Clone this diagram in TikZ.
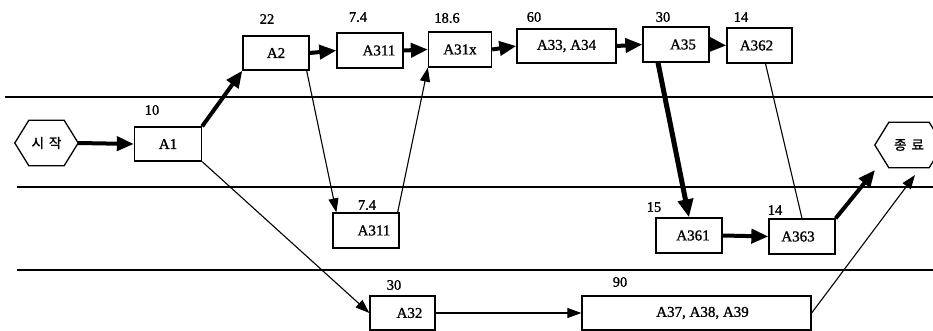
\documentclass[tikz,border=0pt]{standalone}
\usepackage{fontspec}
\setmainfont{Liberation Serif}[FakeBold=1.2]
\newfontfamily\kr{Noto Sans CJK KR}[FakeBold=1.5]
\usetikzlibrary{arrows.meta}
\begin{document}
\begin{tikzpicture}[x=1pt,y=-1pt,
  box/.style={draw, line width=1.3pt, minimum height=34pt, inner sep=0pt, font=\fontsize{15}{17}\selectfont},
  num/.style={inner sep=0pt, font=\fontsize{14.5}{16}\selectfont},
  hexn/.style={minimum width=63pt, minimum height=45pt, inner sep=0pt, font=\kr\fontsize{13.5}{15}\selectfont},
  hexline/.style={line width=1.3pt},
  band/.style={line width=1.3pt},
  tarr/.style={line width=4pt, -{Triangle[length=17pt,width=14pt]}},
  varr/.style={line width=5pt, -{Triangle[length=18pt,width=15pt]}},
  narr/.style={line width=1.1pt, -{Triangle[length=14pt,width=10pt]}},
  plain/.style={line width=1.1pt}]
\useasboundingbox (0,0) rectangle (933,331);

% band lines
\coordinate (L1a) at (5,97);   \coordinate (L1b) at (933,97);
\coordinate (L2a) at (17,187); \coordinate (L2b) at (933,187);
\coordinate (L3a) at (17,270); \coordinate (L3b) at (933,270);
\draw[band] (L1a) -- (L1b);
\draw[band] (L2a) -- (L2b);
\draw[band] (L3a) -- (L3b);

% start / end hexagons
\node[hexn] (S) at (46.5,143) {시\hspace{5pt}작};
\draw[hexline] (S.west) -- ([xshift=14pt]S.north west) -- ([xshift=-14pt]S.north east) -- (S.east)
  -- ([xshift=-14pt]S.south east) -- ([xshift=14pt]S.south west) -- cycle;
\node[hexn, minimum width=68pt] (E) at (909,145) {종\hspace{5pt}료};
\draw[hexline] (E.west) -- ([xshift=14pt]E.north west) -- ([xshift=-14pt]E.north east) -- (E.east)
  -- ([xshift=-14pt]E.south east) -- ([xshift=14pt]E.south west) -- cycle;

% boxes
\node[box, minimum width=67pt] (A1) at (168,144) {A1};
\node[box, minimum width=66pt] (A2) at (276,53) {A2};
\node[box, minimum width=66pt, minimum height=35pt] (A311t) at (370,50.5) {\hspace*{18pt}A311};
\node[box, minimum width=63pt, minimum height=35pt] (A31x) at (460,49.5) {A31x};
\node[box, minimum width=99pt] (A33) at (566.5,46) {A33,\ A34};
\node[box, minimum width=66pt, minimum height=35pt] (A35) at (676,44.5) {\hspace*{14pt}A35};
\node[box, minimum width=65pt, minimum height=35pt] (A362) at (759.5,45.5) {A362\hspace*{6pt}};
\node[box, minimum width=66pt, minimum height=35pt] (A311b) at (366,230.5) {\hspace*{16pt}A311};
\node[box, minimum width=66pt, minimum height=35pt] (A361) at (689,235.5) {\hspace*{8pt}A361};
\node[box, minimum width=66pt, minimum height=35pt] (A363) at (802,236.5) {A363\hspace*{8pt}};
\node[box, minimum width=65pt] (A32) at (402.5,313) {\hspace*{14pt}A32};
\node[box, minimum width=229pt] (A37) at (696.5,313) {\hspace*{12pt}A37,\ A38,\ A39};

% durations
\node[num] (n1) at (152,110) {10};
\node[num] (n2) at (267,19) {22};
\node[num] (n3) at (358,17) {7.4};
\node[num] (n4) at (447,18) {18.6};
\node[num] (n5) at (534,17) {60};
\node[num] (n6) at (663,17) {30};
\node[num] (n7) at (741,17) {14};
\node[num] (n8) at (367,205) {7.4};
\node[num] (n9) at (394,285) {30};
\node[num] (n10) at (620,282) {90};
\node[num] (n11) at (654,207) {15};
\node[num] (n12) at (775,210) {14};

% connectors
\draw[tarr] (S.east) -- (A1.west);
\draw[tarr] (A1.north east) -- (A2.south west);
\draw[narr] (A1.south east) -- (A32.west);
\draw[tarr] (A2.east) -- (A311t.west);
\draw[narr] ([xshift=-3pt]A2.south east) -- ([xshift=4pt]A311b.north west);
\draw[tarr] (A311t.east) -- (A31x.west);
\draw[narr] ([xshift=-2pt]A311b.north east) -- (A31x.south west);
\draw[tarr] (A31x.east) -- (A33.west);
\draw[tarr] (A33.east) -- (A35.west);
\draw[tarr] (A35.east) -- (A362.west);
\draw[varr] ([xshift=-18pt]A35.south) -- (A361.north);
\draw[plain] ([xshift=6pt]A362.south) -- (A363.north);
\draw[tarr] (A361.east) -- (A363.west);
\coordinate (E1) at ([shift={(-34,25)}]E.center);
\coordinate (E2) at ([shift={(6,30)}]E.center);
\draw[tarr] (A363.north east) -- (E1);
\draw[narr] (A32.east) -- (A37.west);
\draw[narr] (A37.east) -- (E2);
\end{tikzpicture}
\end{document}
